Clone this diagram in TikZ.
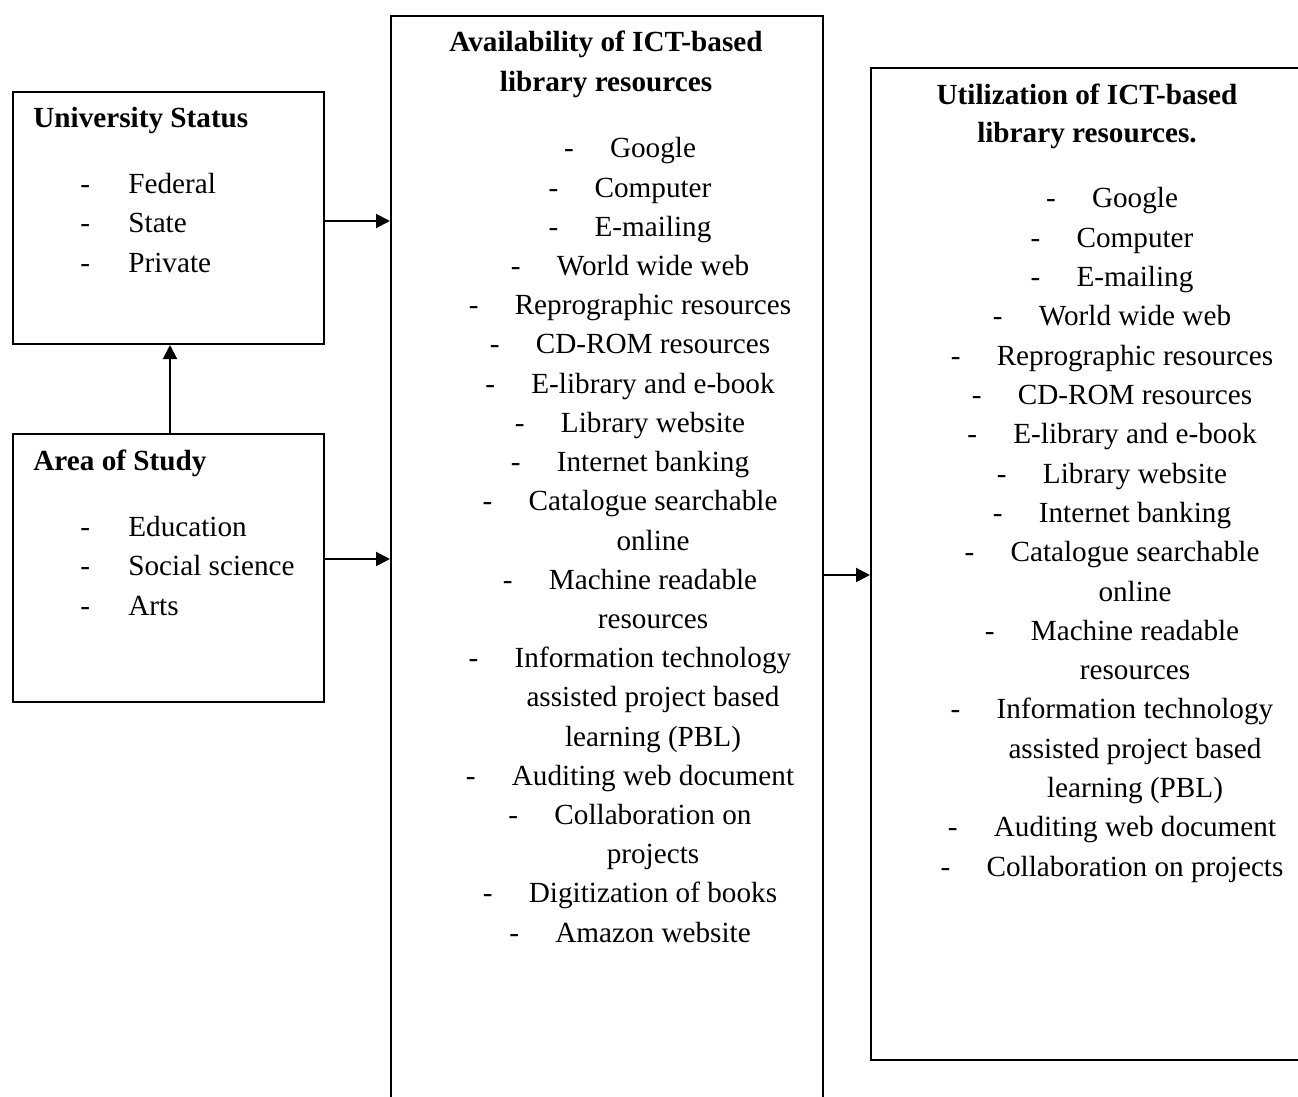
\documentclass[tikz,border=0pt]{standalone}
\usepackage{fontspec}
\setmainfont{Liberation Serif}
\usetikzlibrary{arrows.meta}
\newcommand{\myitem}[4]{%
  \node[txt, anchor=base] (#1) at (#2,#3) {#4};
  \node[txt, anchor=base west] (#1d) at ([xshift=-23pt]#1.base west) {-};
}
\newcommand{\mycont}[4]{\node[txt, anchor=base] (#1) at (#2,#3) {#4};}
\tikzset{
  box/.style={draw, line width=1pt, inner sep=0pt, anchor=north west},
  txt/.style={inner sep=0pt, font=\fontsize{14.6}{19.6}\selectfont},
  ttl/.style={inner sep=0pt, font=\fontsize{14.6}{19.6}\selectfont\bfseries},
  arr/.style={line width=1pt, -{Triangle[length=7pt,width=7pt]}},
}
\begin{document}
\begin{tikzpicture}[x=0.5pt,y=-0.5pt]
\useasboundingbox (0,0) rectangle (1298,1097);
\clip (0,0) rectangle (1298,1097);
% boxes
\node[box, minimum width=155.5pt, minimum height=126pt] (us) at (12,91) {};
\node[box, minimum width=155.5pt, minimum height=134pt] (area) at (12,433) {};
\node[box, minimum width=216pt, minimum height=550pt] (mid) at (390,15) {};
\node[box, minimum width=217pt, minimum height=496pt] (right) at (870,67) {};
% University Status
\node[ttl, anchor=base west] (ust) at (33,128) {University Status};
\node[txt, anchor=base west] (us1) at (128,194) {Federal};
\node[txt, anchor=base west] (us2) at (128,233) {State};
\node[txt, anchor=base west] (us3) at (128,273) {Private};
\node[txt, anchor=base west] (us1d) at (80,194) {-};
\node[txt, anchor=base west] (us2d) at (80,233) {-};
\node[txt, anchor=base west] (us3d) at (80,273) {-};
% Area of Study
\node[ttl, anchor=base west] (art) at (33,470) {Area of Study};
\node[txt, anchor=base west] (ar1) at (128,536) {Education};
\node[txt, anchor=base west] (ar2) at (128,575) {Social science};
\node[txt, anchor=base west] (ar3) at (128,615) {Arts};
\node[txt, anchor=base west] (ar1d) at (80,536) {-};
\node[txt, anchor=base west] (ar2d) at (80,575) {-};
\node[txt, anchor=base west] (ar3d) at (80,615) {-};
% Middle box
\node[ttl, anchor=base] (mt1) at (606,52) {Availability of ICT-based};
\node[ttl, anchor=base] (mt2) at (606,92) {library resources};
\myitem{m1}{653}{158}{Google}
\myitem{m2}{653}{197.2}{Computer}
\myitem{m3}{653}{236.4}{E-mailing}
\myitem{m4}{653}{275.6}{World wide web}
\myitem{m5}{653}{314.8}{Reprographic resources}
\myitem{m6}{653}{354}{CD-ROM resources}
\myitem{m7}{653}{393.2}{E-library and e-book}
\myitem{m8}{653}{432.4}{Library website}
\myitem{m9}{653}{471.6}{Internet banking}
\myitem{m10}{653}{510.8}{Catalogue searchable}
\mycont{m11}{653}{550}{online}
\myitem{m12}{653}{589.2}{Machine readable}
\mycont{m13}{653}{628.4}{resources}
\myitem{m14}{653}{667.6}{Information technology}
\mycont{m15}{653}{706.8}{assisted project based}
\mycont{m16}{653}{746}{learning (PBL)}
\myitem{m17}{653}{785.2}{Auditing web document}
\myitem{m18}{653}{824.4}{Collaboration on}
\mycont{m19}{653}{863.6}{projects}
\myitem{m20}{653}{902.8}{Digitization of books}
\myitem{m21}{653}{942}{Amazon website}
% Right box
\node[ttl, anchor=base] (rt1) at (1087,105) {Utilization of ICT-based};
\node[ttl, anchor=base] (rt2) at (1087,143) {library resources.};
\myitem{r1}{1135}{208}{Google}
\myitem{r2}{1135}{247.3}{Computer}
\myitem{r3}{1135}{286.6}{E-mailing}
\myitem{r4}{1135}{325.9}{World wide web}
\myitem{r5}{1135}{365.2}{Reprographic resources}
\myitem{r6}{1135}{404.5}{CD-ROM resources}
\myitem{r7}{1135}{443.8}{E-library and e-book}
\myitem{r8}{1135}{483.1}{Library website}
\myitem{r9}{1135}{522.4}{Internet banking}
\myitem{r10}{1135}{561.7}{Catalogue searchable}
\mycont{r11}{1135}{601}{online}
\myitem{r12}{1135}{640.3}{Machine readable}
\mycont{r13}{1135}{679.6}{resources}
\myitem{r14}{1135}{718.9}{Information technology}
\mycont{r15}{1135}{758.2}{assisted project based}
\mycont{r16}{1135}{797.5}{learning (PBL)}
\myitem{r17}{1135}{836.8}{Auditing web document}
\myitem{r18}{1135}{876.1}{Collaboration on projects}
% arrows
\draw[arr] ([yshift=-1.5pt]us.east) -- ([yshift=-1.5pt]us.east -| mid.west);
\draw[arr] ([yshift=4.5pt]area.east) -- ([yshift=4.5pt]area.east -| mid.west);
\draw[arr] ([xshift=0.75pt]area.north) -- ([xshift=0.75pt]us.south);
\draw[arr] ([yshift=-4.5pt]mid.east) -- ([yshift=-4.5pt]mid.east -| right.west);
\end{tikzpicture}
\end{document}
